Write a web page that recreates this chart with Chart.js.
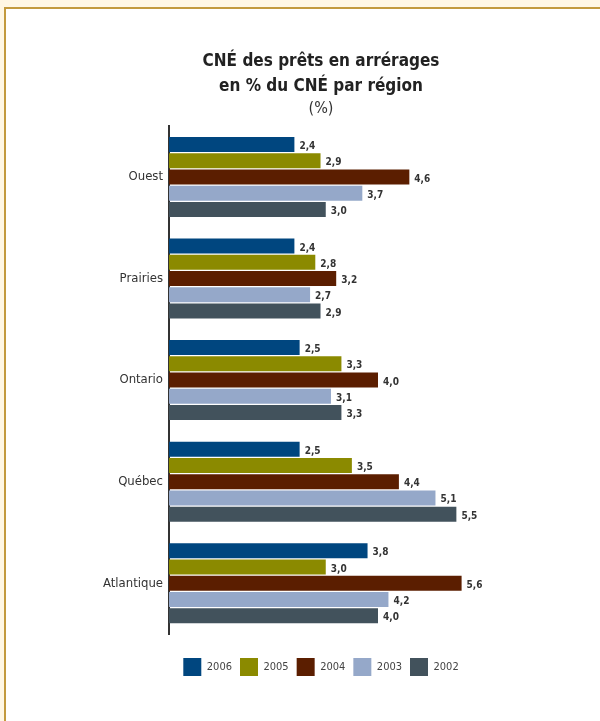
<!DOCTYPE html>
<html>
<head>
<meta charset="utf-8">
<script src="https://cdn.jsdelivr.net/npm/chart.js@4"></script>
<style>
  body { margin: 0; background: #fff7e4; }
  #frame {
    position: absolute; left: 4px; top: 7px; width: 596px; height: 714px;
    background: #fff; border-top: 2px solid #c39a3e; border-left: 2px solid #c39a3e;
  }
  #chart { display: block; }
</style>
</head>
<body>
<div id="frame"><canvas id="chart" width="594" height="712"></canvas></div>
<script>
// Regions and years
const regions = ["Ouest", "Prairies", "Ontario", "Québec", "Atlantique"];
const years = ["2006", "2005", "2004", "2003", "2002"];

// Values per year, in region order
const v2006 = [2.4, 2.4, 2.5, 2.5, 3.8];
const v2005 = [2.9, 2.8, 3.3, 3.5, 3.0];
const v2004 = [4.6, 3.2, 4.0, 4.4, 5.6];
const v2003 = [3.7, 2.7, 3.1, 5.1, 4.2];
const v2002 = [3.0, 2.9, 3.3, 5.5, 4.0];

const colors = ["#00467f", "#8b8a00", "#5b1e00", "#95a8c9", "#42525c"];
const fontFamily = "'Liberation Sans Narrow', 'DejaVu Sans Condensed', 'Arial Narrow', sans-serif";

const allValues = [v2006, v2005, v2004, v2003, v2002];

// Value labels at the end of each bar, with a decimal comma
const barLabels = {
  id: "barLabels",
  afterDatasetsDraw(chart) {
    const ctx = chart.ctx;
    ctx.save();
    ctx.font = "bold 10px " + fontFamily;
    ctx.fillStyle = "#333";
    ctx.textBaseline = "middle";
    ctx.textAlign = "left";
    chart.data.datasets.forEach((ds, i) => {
      chart.getDatasetMeta(i).data.forEach((bar, j) => {
        const txt = ds.data[j].toFixed(1).replace(".", ",");
        ctx.fillText(txt, bar.x + 5, bar.y + 2);
      });
    });
    ctx.restore();
  }
};

new Chart(document.getElementById("chart"), {
  type: "bar",
  data: {
    labels: regions,
    datasets: years.map((y, i) => ({
      label: y,
      data: allValues[i],
      backgroundColor: colors[i],
      borderWidth: 0,
      barPercentage: 0.92,
      categoryPercentage: 0.8
    }))
  },
  options: {
    indexAxis: "y",
    responsive: false,
    animation: false,
    layout: { padding: { left: 49, right: 13, top: 0, bottom: 35 } },
    scales: {
      x: {
        min: 0, max: 8,
        grid: { display: false },
        border: { display: false },
        ticks: { display: false },
        afterFit(scale) { scale.height = 16; }
      },
      y: {
        grid: { display: false, drawTicks: false },
        border: { display: true, color: "#333", width: 2 },
        ticks: { color: "#333", padding: 6, font: { family: fontFamily, size: 13 } },
        afterFit(scale) { scale.width = 114; }
      }
    },
    plugins: {
      title: {
        display: true,
        text: ["CNÉ des prêts en arrérages", "en % du CNÉ par région"],
        color: "#222",
        font: { family: fontFamily, size: 17, weight: "bold", lineHeight: 1.47 },
        padding: { top: 40, bottom: 0 }
      },
      subtitle: {
        display: true,
        text: "(%)",
        color: "#333",
        font: { family: fontFamily, size: 16 },
        padding: { top: 0, bottom: 8 }
      },
      legend: {
        position: "bottom",
        labels: {
          boxWidth: 18,
          boxHeight: 18,
          padding: 8,
          color: "#444",
          font: { family: fontFamily, size: 11 }
        }
      },
      tooltip: { enabled: false }
    }
  },
  plugins: [barLabels]
});
</script>
</body>
</html>
